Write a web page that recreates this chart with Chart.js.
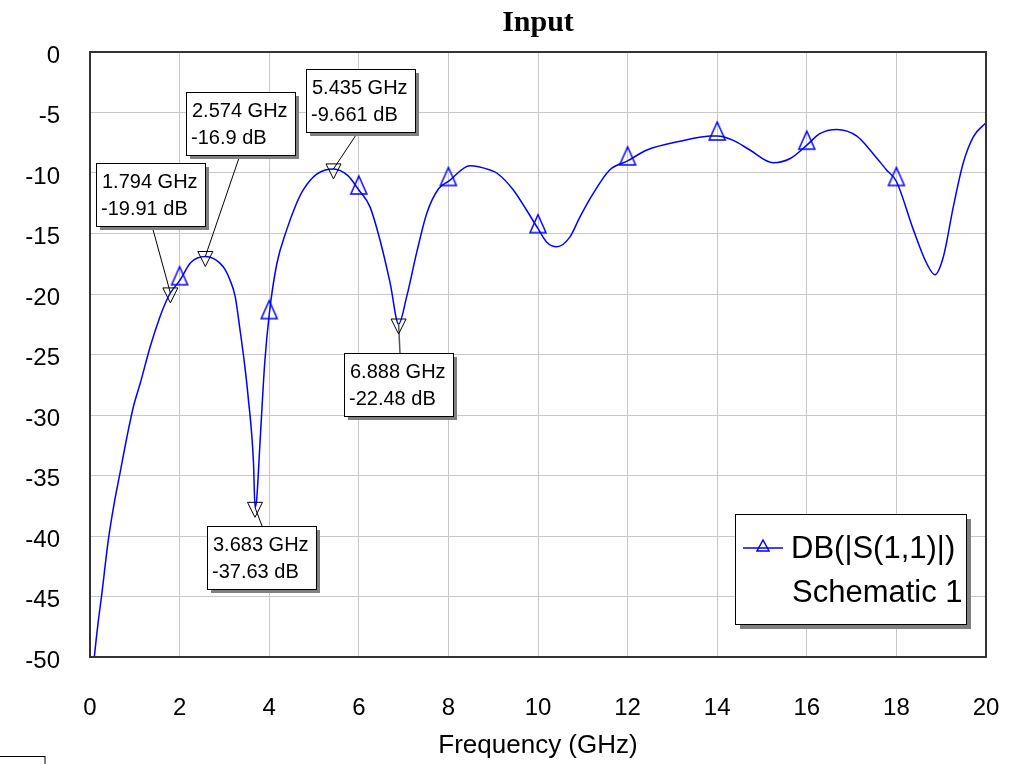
<!DOCTYPE html>
<html>
<head>
<meta charset="utf-8">
<title>Input</title>
<script src="https://cdn.jsdelivr.net/npm/chart.js@4.4.1/dist/chart.umd.min.js"></script>
<style>
  html, body { margin: 0; padding: 0; background: #fff; }
  #wrap { position: relative; width: 1014px; height: 764px; }
</style>
</head>
<body>
<div id="wrap"><canvas id="s11Chart" width="1014" height="764"></canvas></div>
<script>
// swept response
const freqGHz = [
  0.07, 0.1, 0.18, 0.26, 0.41, 0.54, 0.67, 0.82, 0.97, 1.12, 1.34, 1.55, 1.7, 1.794,
  2.0, 2.25, 2.574, 2.75, 2.9, 3.02, 3.12, 3.24, 3.35, 3.45, 3.53, 3.65, 3.683, 3.72, 3.79, 3.9,
  4.0, 4.17, 4.39, 4.6, 4.76, 5.06, 5.435, 5.75, 6.0, 6.25, 6.47, 6.7, 6.888,
  7.07, 7.29, 7.52, 7.78, 8.0, 8.48, 8.93, 9.08, 9.45, 9.75, 10.0, 10.19, 10.42,
  10.71, 10.94, 11.23, 11.6, 12.0, 12.43, 13.2, 13.84, 14.0, 14.36, 14.73, 15.25,
  15.63, 16.0, 16.29, 16.67, 17.11, 17.48, 17.78, 18.0, 18.38, 18.68, 18.86,
  19.05, 19.27, 19.49, 19.72, 20.0
];
const s11dB = [
  -51.2, -49.9, -47.2, -44.9, -40.3, -37.3, -34.8, -31.9, -29.3, -27.4, -24.4, -22.0, -20.6, -19.91,
  -18.9, -17.4, -16.9, -17.05, -17.45, -18.0, -18.8, -20.2, -23.0, -25.8, -28.5, -34.0, -37.63, -37.0, -32.6, -25.7,
  -21.7, -17.5, -14.7, -12.6, -11.4, -10.1, -9.661, -10.2, -11.4, -12.8, -15.5, -19.1, -22.48,
  -20.2, -16.6, -13.3, -11.3, -10.7, -9.4, -9.75, -10.0, -11.4, -13.1, -14.6, -15.7, -16.1,
  -15.3, -13.6, -11.7, -9.75, -9.0, -8.1, -7.35, -6.95, -6.94, -7.3, -8.1, -9.15,
  -8.8, -7.7, -6.75, -6.4, -6.94, -8.4, -9.75, -10.7, -14.7, -17.5, -18.4,
  -16.9, -12.8, -9.2, -7.0, -5.84
];

// where the blue trace symbols sit
const symbolFreqs = [2, 4, 6, 8, 10, 12, 14, 16, 18];

// marker readouts
const markerFreqs = [1.794, 2.574, 3.683, 5.435, 6.888];
const markerDb = [-19.91, -16.9, -37.63, -9.661, -22.48];

const xTickValues = [0, 2, 4, 6, 8, 10, 12, 14, 16, 18, 20];
const yTickValues = [0, -5, -10, -15, -20, -25, -30, -35, -40, -45, -50];

const chartTitle = "Input";
const traceLabel = "DB(|S(1,1)|)";
const traceSource = "Schematic 1";

// box placement for each marker readout: [dx, dy] of box corner from the point, leader attach
const markerBoxes = [
  { dx: -74, dy: -130, attach: 56, side: "bottom" },
  { dx: -19, dy: -164, attach: 54, side: "bottom" },
  { dx: -48, dy: 19, attach: 55, side: "top" },
  { dx: -27, dy: -100, attach: 52, side: "bottom" },
  { dx: -55, dy: 29, attach: 56, side: "top" }
];

const TEXT_FONT = '"Liberation Sans", Arial, sans-serif';

function makeSymbol() {
  const c = document.createElement("canvas");
  c.width = 20;
  c.height = 36;
  const g = c.getContext("2d");
  g.strokeStyle = "#0000ff";
  g.lineWidth = 1.5;
  g.beginPath();
  g.moveTo(10, 4);
  g.lineTo(2, 22);
  g.lineTo(18, 22);
  g.closePath();
  g.stroke();
  return c;
}

const traceSymbol = makeSymbol();

function drawShadowBox(ctx, x, y, w, h, off) {
  ctx.fillStyle = "#808080";
  ctx.fillRect(x + off, y + off, w, h);
  ctx.fillStyle = "#ffffff";
  ctx.fillRect(x, y, w, h);
  ctx.strokeStyle = "#000000";
  ctx.lineWidth = 1;
  ctx.strokeRect(x + 0.5, y + 0.5, w, h);
}

const awrDecor = {
  id: "awrDecor",
  afterDraw(chart) {
    const ctx = chart.ctx;
    const area = chart.chartArea;
    const xs = chart.scales.x;
    const ys = chart.scales.y;

    ctx.save();

    // title, centred on the plot area
    ctx.fillStyle = "#000000";
    ctx.font = 'bold 30px "Liberation Serif", "Times New Roman", serif';
    ctx.textAlign = "center";
    ctx.textBaseline = "middle";
    ctx.fillText(chartTitle, (area.left + area.right) / 2, 23);

    // frame around the plot
    ctx.strokeStyle = "#333333";
    ctx.lineWidth = 2;
    ctx.strokeRect(area.left, area.top, area.right - area.left, area.bottom - area.top);

    // marker readouts
    ctx.font = "20px " + TEXT_FONT;
    markerFreqs.forEach((f, i) => {
      const px = xs.getPixelForValue(f);
      const py = ys.getPixelForValue(markerDb[i]);
      const b = markerBoxes[i];
      const line1 = f.toFixed(3) + " GHz";
      const line2 = markerDb[i] + " dB";
      const w = Math.round(Math.max(ctx.measureText(line1).width, ctx.measureText(line2).width) + 13);
      const h = 63;
      const bx = Math.round(px + b.dx);
      const by = Math.round(py + b.dy);

      // leader
      ctx.strokeStyle = i === 4 ? "#555555" : "#000000";
      ctx.lineWidth = i === 4 ? 1.5 : 1;
      ctx.beginPath();
      ctx.moveTo(bx + b.attach, b.side === "bottom" ? by + h : by);
      ctx.lineTo(px, py);
      ctx.stroke();

      // inverted marker triangle
      ctx.strokeStyle = "#000000";
      ctx.lineWidth = 1;
      ctx.beginPath();
      ctx.moveTo(px - 7.5, py - 5);
      ctx.lineTo(px + 7.5, py - 5);
      ctx.lineTo(px, py + 10);
      ctx.closePath();
      ctx.stroke();

      drawShadowBox(ctx, bx, by, w, h, 4);
      ctx.fillStyle = "#000000";
      ctx.textAlign = "left";
      ctx.textBaseline = "middle";
      ctx.fillText(line1, bx + 6, by + 19);
      ctx.fillText(line2, bx + 5, by + 46);
    });

    // legend box inside the plot
    const lw = 231, lh = 110;
    const lx = area.right - 251;
    const ly = area.bottom - 143;
    drawShadowBox(ctx, lx, ly, lw, lh, 5);
    ctx.strokeStyle = "#0000ff";
    ctx.lineWidth = 1.5;
    ctx.beginPath();
    ctx.moveTo(lx + 8, ly + 34);
    ctx.lineTo(lx + 48, ly + 34);
    ctx.stroke();
    ctx.beginPath();
    ctx.moveTo(lx + 28, ly + 26);
    ctx.lineTo(lx + 22, ly + 37);
    ctx.lineTo(lx + 34, ly + 37);
    ctx.closePath();
    ctx.stroke();
    ctx.fillStyle = "#000000";
    ctx.font = "31px " + TEXT_FONT;
    ctx.textAlign = "left";
    ctx.textBaseline = "middle";
    ctx.fillText(traceLabel, lx + 56, ly + 35);
    ctx.fillText(traceSource, lx + 57, ly + 79);

    // stray frame fragment at the lower left corner
    ctx.strokeStyle = "#000000";
    ctx.lineWidth = 1;
    ctx.strokeRect(-1, 756.5, 46, 20);

    ctx.restore();
  }
};

const points = freqGHz.map((f, i) => ({ x: f, y: s11dB[i] }));

new Chart(document.getElementById("s11Chart").getContext("2d"), {
  type: "line",
  data: {
    datasets: [{
      label: traceLabel,
      data: points,
      borderColor: "#0000ff",
      borderWidth: 1.5,
      cubicInterpolationMode: "monotone",
      fill: false,
      pointStyle: traceSymbol,
      pointRadius: (ctx) => symbolFreqs.includes(freqGHz[ctx.dataIndex]) ? 5 : 0,
      pointHoverRadius: 0
    }]
  },
  options: {
    responsive: false,
    animation: false,
    layout: { padding: { left: 0, right: 28, top: 52, bottom: 0 } },
    plugins: {
      legend: { display: false },
      tooltip: { enabled: false },
      title: { display: false }
    },
    scales: {
      x: {
        type: "linear",
        min: 0,
        max: 20,
        afterFit: (scale) => {
          scale.height = 107;
          scale.paddingLeft = 0;
          scale.paddingRight = 0;
        },
        afterBuildTicks: (scale) => { scale.ticks = xTickValues.map((v) => ({ value: v })); },
        grid: { color: "#c8c8c8", lineWidth: 1, drawTicks: false },
        border: { display: false },
        ticks: {
          color: "#000000",
          padding: 37,
          maxRotation: 0,
          font: { family: TEXT_FONT, size: 24 },
          callback: (v) => String(v)
        },
        title: {
          display: true,
          text: "Frequency (GHz)",
          color: "#000000",
          font: { family: TEXT_FONT, size: 26 },
          padding: { top: 0, bottom: 3 }
        }
      },
      y: {
        type: "linear",
        min: -50,
        max: 0,
        afterFit: (scale) => {
          scale.width = 90;
          scale.paddingTop = 0;
          scale.paddingBottom = 0;
        },
        afterBuildTicks: (scale) => { scale.ticks = yTickValues.map((v) => ({ value: v })); },
        grid: { color: "#c8c8c8", lineWidth: 1, drawTicks: false },
        border: { display: false },
        ticks: {
          color: "#000000",
          padding: 30,
          labelOffset: 4,
          font: { family: TEXT_FONT, size: 24 },
          callback: (v) => String(v)
        }
      }
    }
  },
  plugins: [awrDecor]
});
</script>
</body>
</html>
